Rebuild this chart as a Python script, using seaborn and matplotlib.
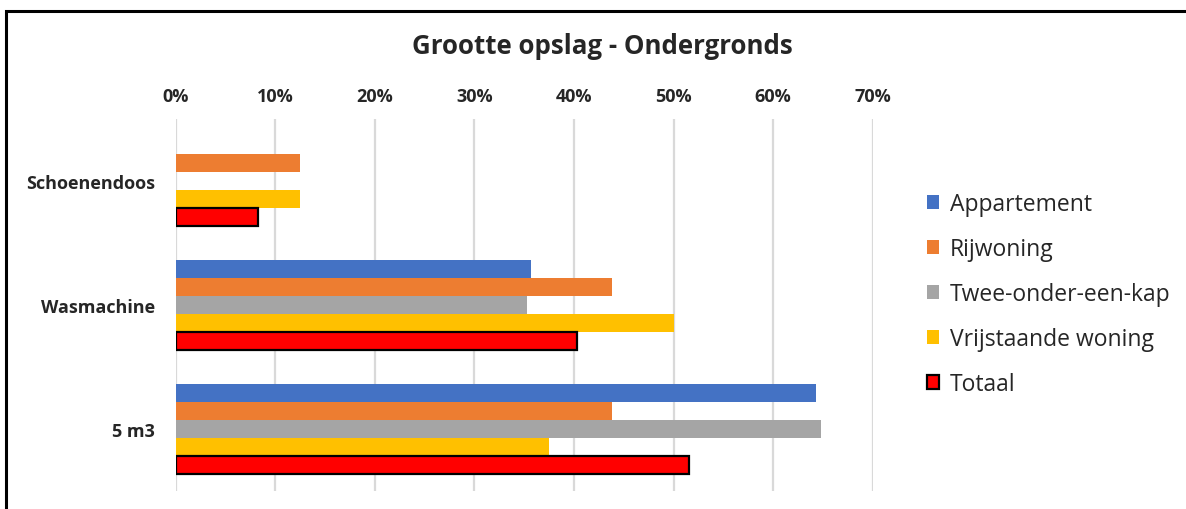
import matplotlib
matplotlib.use("Agg")
import matplotlib.pyplot as plt
from matplotlib.patches import Rectangle
from matplotlib.ticker import PercentFormatter
import seaborn as sns
import pandas as pd

categories = ["Schoenendoos", "Wasmachine", "5 m3"]
series = ["Appartement", "Rijwoning", "Twee-onder-een-kap", "Vrijstaande woning", "Totaal"]
appartement = [0.0, 35.7, 64.3]
rijwoning = [12.5, 43.8, 43.8]
twee_onder_een_kap = [0.0, 35.3, 64.8]
vrijstaande = [12.5, 50.0, 37.5]
totaal = [8.3, 40.3, 51.6]
x_ticks = [0, 10, 20, 30, 40, 50, 60, 70]
colors = ["#4472C4", "#ED7D31", "#A5A5A5", "#FFC000", "#FF0000"]

values = [appartement, rijwoning, twee_onder_een_kap, vrijstaande, totaal]
rows = []
for name, vals in zip(series, values):
    for cat, v in zip(categories, vals):
        rows.append({"categorie": cat, "type": name, "pct": v})
df = pd.DataFrame(rows)

sns.set_style("white")
plt.rcParams["font.family"] = ["Open Sans", "DejaVu Sans"]

fig = plt.figure(figsize=(11.86, 5.10), dpi=100)
ax = fig.add_axes([175.5 / 1186, 1 - 492 / 510, (872.7 - 175.5) / 1186, (492 - 120) / 510])

sns.barplot(data=df, y="categorie", x="pct", hue="type", order=categories,
            hue_order=series, palette=colors, orient="h", width=0.726,
            saturation=1, errorbar=None, ax=ax, linewidth=0)

# Totaal bars get a black outline
for bar in ax.containers[-1]:
    bar.set_edgecolor("black")
    bar.set_linewidth(1.6)

ax.set_xlim(0, 70)
ax.set_xticks(x_ticks)
ax.xaxis.set_major_formatter(PercentFormatter(decimals=0))
ax.xaxis.tick_top()
ax.xaxis.set_label_position("top")
ax.set_xlabel("")
ax.set_ylabel("")
ax.grid(axis="x", color="#D9D9D9", linewidth=1.6)
ax.set_axisbelow(True)
for s in ax.spines.values():
    s.set_visible(False)
ax.tick_params(axis="both", length=0)
ax.tick_params(axis="x", pad=10)
ax.tick_params(axis="y", pad=15)
for lbl in ax.get_xticklabels() + ax.get_yticklabels():
    lbl.set_fontweight("bold")
    lbl.set_fontsize(13)

fig.text(602 / 1186, 1 - 47 / 510, "Grootte opslag - Ondergronds", ha="center",
         va="center", fontsize=18.6, fontweight="bold")

handles, labels = ax.get_legend_handles_labels()
handles[-1].set_edgecolor("black")
handles[-1].set_linewidth(1.6)
ax.legend(handles, labels, loc="center left", bbox_to_anchor=(906 / 1186, 1 - 295 / 510),
          bbox_transform=fig.transFigure, frameon=False, fontsize=16.5,
          handlelength=0.55, handleheight=0.55, handletextpad=0.45, labelspacing=0.92)

fig.patches.append(Rectangle((6 / 1186, -0.05), 1.2, 1 - 12 / 510 + 0.05,
                             transform=fig.transFigure, fill=False,
                             edgecolor="black", linewidth=2.2))

fig.savefig("out.png", dpi=100)
